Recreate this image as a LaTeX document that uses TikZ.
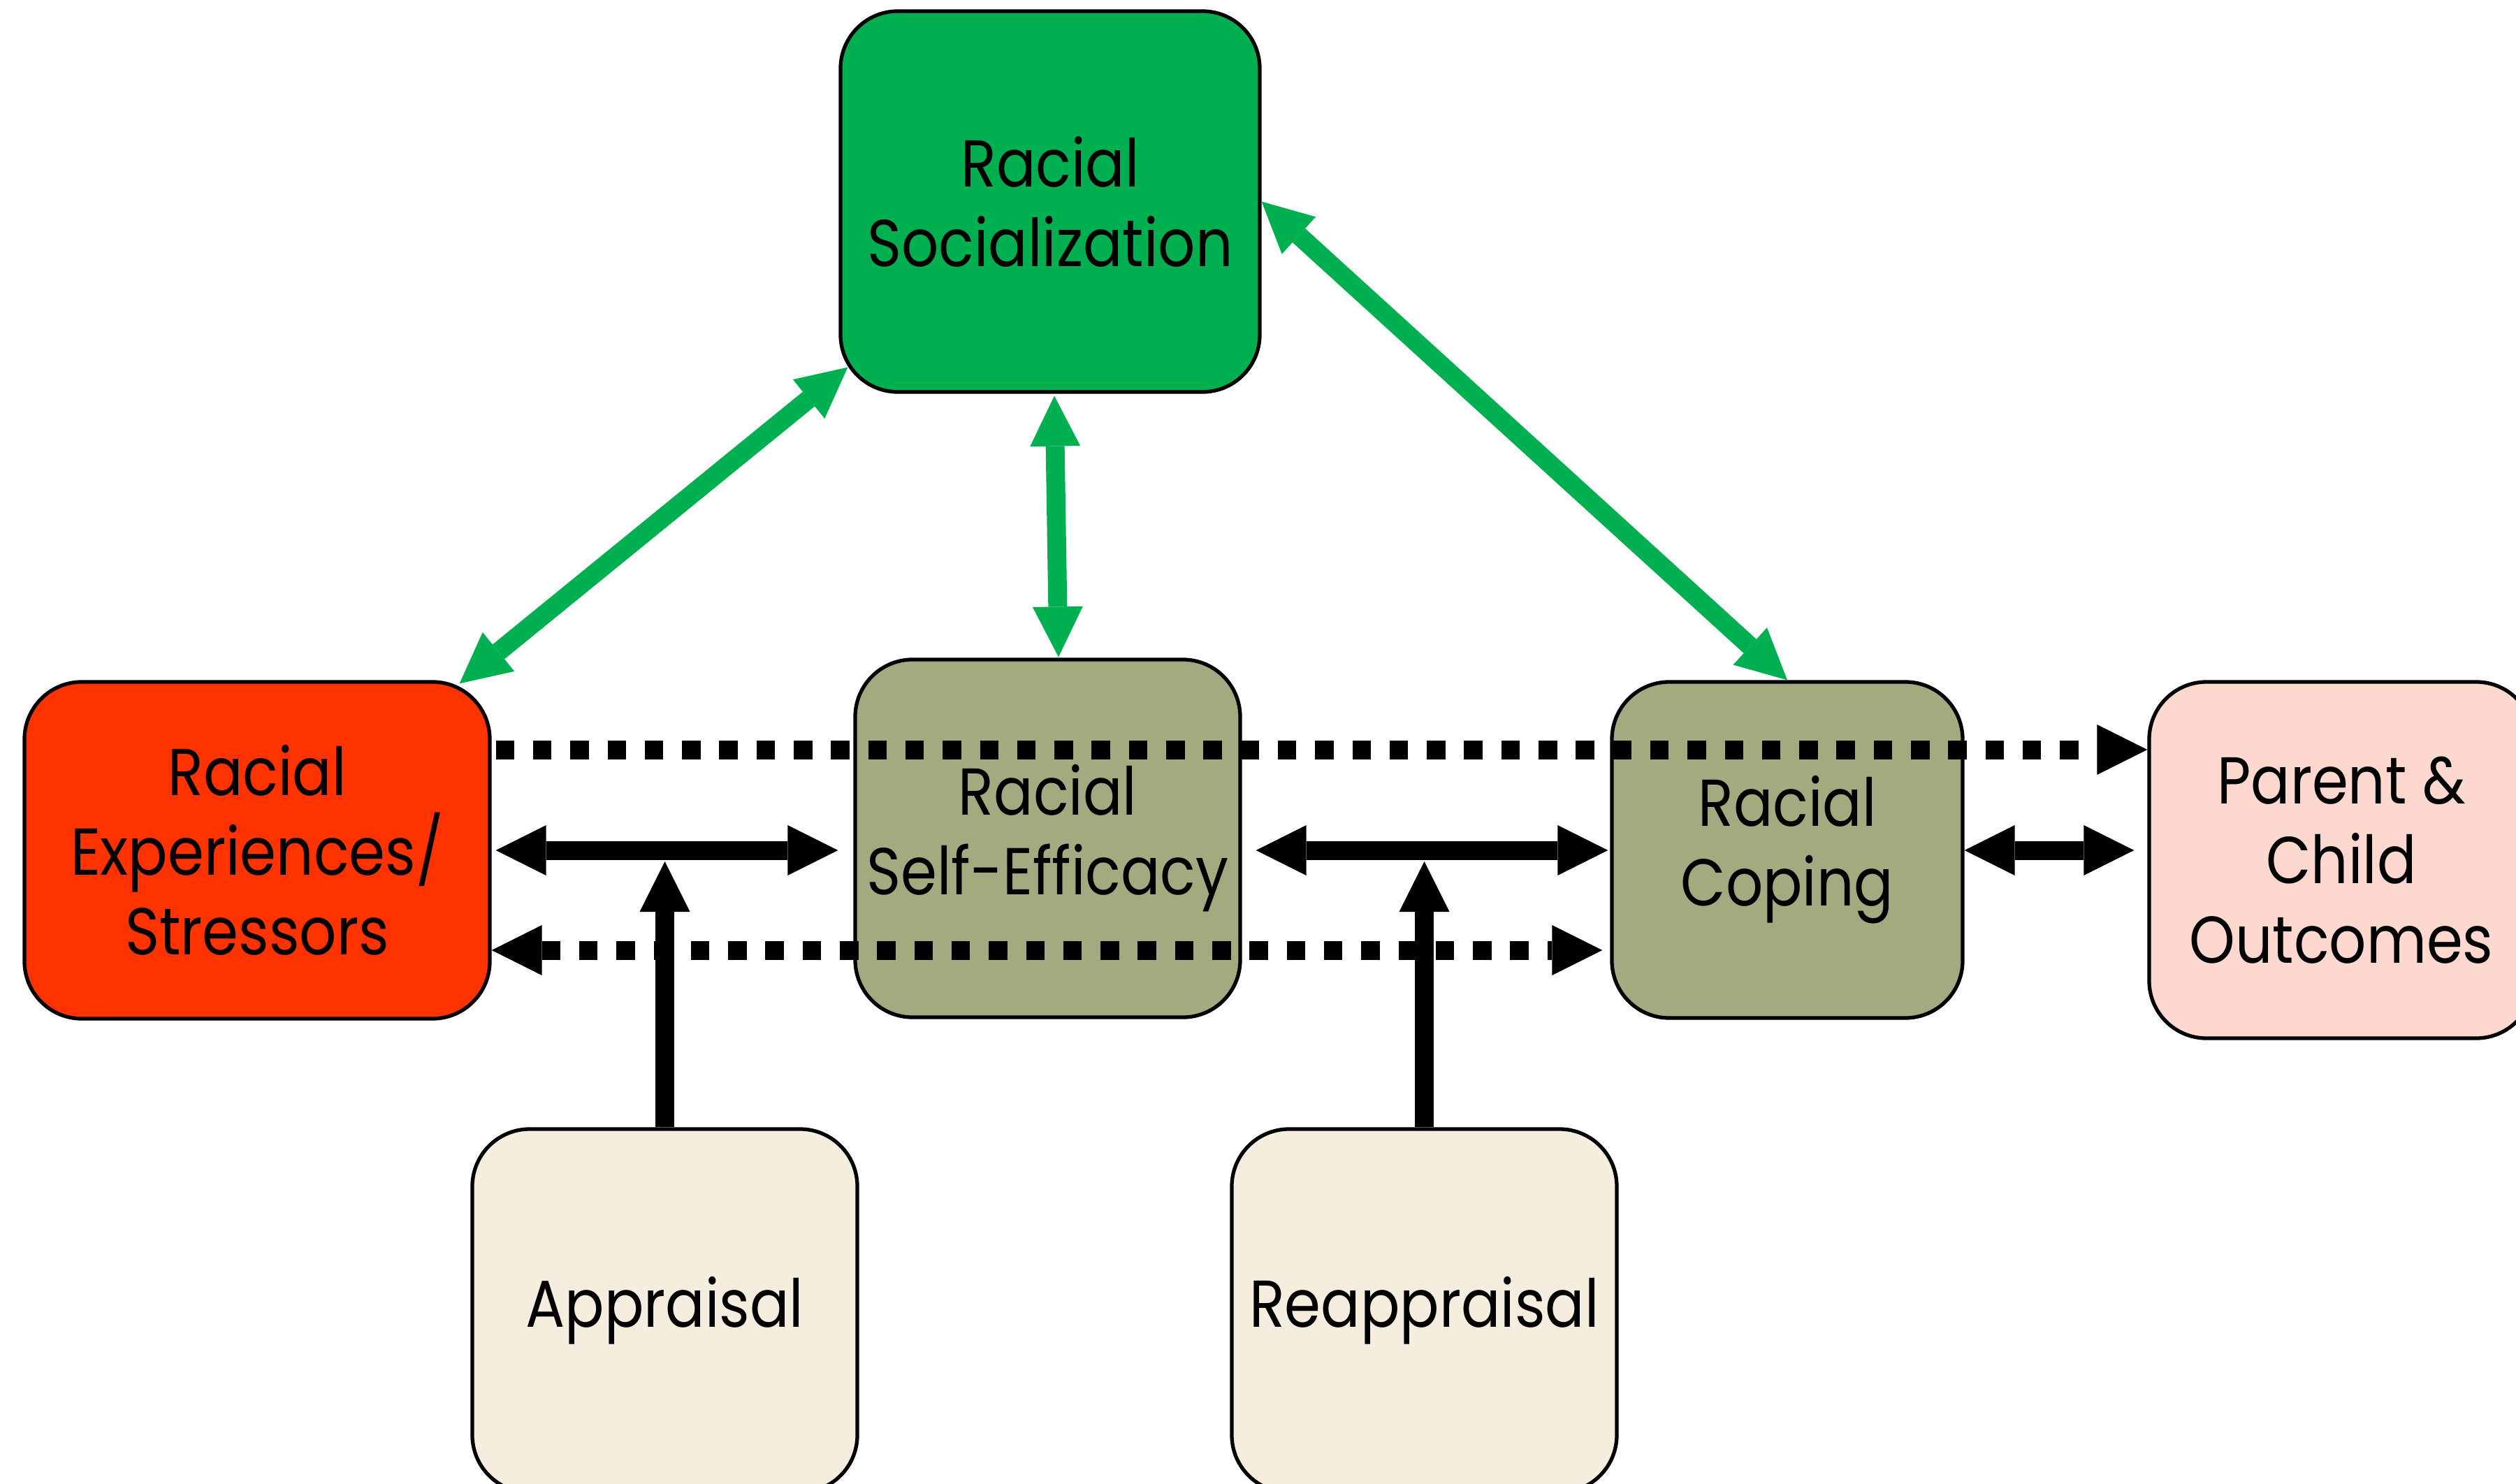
\documentclass[tikz,border=0pt]{standalone}
\usepackage{fontspec}
\setmainfont{Poppins}[FakeStretch=0.88]
\usetikzlibrary{arrows.meta}

\definecolor{socgreen}{RGB}{0,176,80}
\definecolor{stressred}{RGB}{255,51,0}
\definecolor{olivebox}{RGB}{165,169,127}
\definecolor{pinkbox}{RGB}{252,216,206}
\definecolor{creambox}{RGB}{245,238,222}

\begin{document}
\begin{tikzpicture}[
  box/.style={draw=black, line width=1.5pt, rounded corners=0.82cm,
    align=center, inner sep=0pt, text=black,
    font=\fontsize{27}{32.4}\selectfont},
  >={Triangle[length=7.2mm,width=7.2mm,line width=0pt]},
  link/.style={line width=0.27cm, black},
  dotlink/.style={link, dash pattern=on 0.265cm off 0.268cm},
  greenlink/.style={line width=0.27cm, socgreen, <->}
]
\useasboundingbox (0,0) rectangle (36.01,-21.24);

% boxes
\node[box, fill=socgreen, minimum width=6.0cm, minimum height=5.45cm]
  (soc) at (15.03,-2.885) {Racial\\Socialization};
\node[box, fill=stressred, minimum width=6.66cm, minimum height=4.82cm]
  (exp) at (3.68,-12.17) {Racial\\Experiences/\\Stressors};
\node[box, fill=olivebox, minimum width=5.51cm, minimum height=5.12cm]
  (eff) at (14.995,-12.00) {Racial\\Self-Efficacy};
\node[box, fill=olivebox, minimum width=5.02cm, minimum height=4.81cm]
  (cop) at (25.58,-12.165) {Racial\\Coping};
\node[box, fill=pinkbox, minimum width=5.50cm, minimum height=5.10cm]
  (par) at (33.51,-12.31) {Parent \&\\Child\\Outcomes};
\node[box, fill=creambox, minimum width=5.51cm, minimum height=5.20cm]
  (app) at (9.515,-18.76) {Appraisal};
\node[box, fill=creambox, minimum width=5.51cm, minimum height=5.20cm]
  (rea) at (20.385,-18.76) {Reappraisal};

% green links to and from socialization
\draw[greenlink] ([shift={(0.13,0.38)}]soc.south west) -- ([shift={(-0.46,-0.05)}]exp.north east);
\draw[greenlink] ([shift={(0.06,-0.03)}]soc.south) -- ([shift={(0.155,0.01)}]eff.north);
\draw[greenlink] (soc.east) -- (cop.north);

% dotted long-range links
\coordinate (tA) at ([yshift=1.44cm]exp.east);
\coordinate (bA) at ([yshift=-1.43cm]exp.east);
\draw[dotlink, ->, shorten <=0.06cm] (tA) -- (tA -| par.west);
\draw[dotlink, <->, shorten >=0.11cm] (bA) -- (bA -| cop.west);

% solid links between neighbouring boxes
\draw[link, <->, shorten <=0.06cm, shorten >=0.22cm] (exp.east) -- (exp.east -| eff.west);
\draw[link, <->, shorten <=0.2cm, shorten >=0.03cm] (eff.east |- exp.east) -- (cop.west |- exp.east);
\draw[link, <->, shorten >=0.19cm] (cop.east |- exp.east) -- (par.west |- exp.east);

% appraisal links pointing at the solid links
\path (app.north |- exp.east) ++(0,-0.16) coordinate (jA);
\path (rea.north |- exp.east) ++(0,-0.16) coordinate (jR);
\draw[link, ->] (app.north) -- (jA);
\draw[link, ->] (rea.north) -- (jR);
\end{tikzpicture}
\end{document}
